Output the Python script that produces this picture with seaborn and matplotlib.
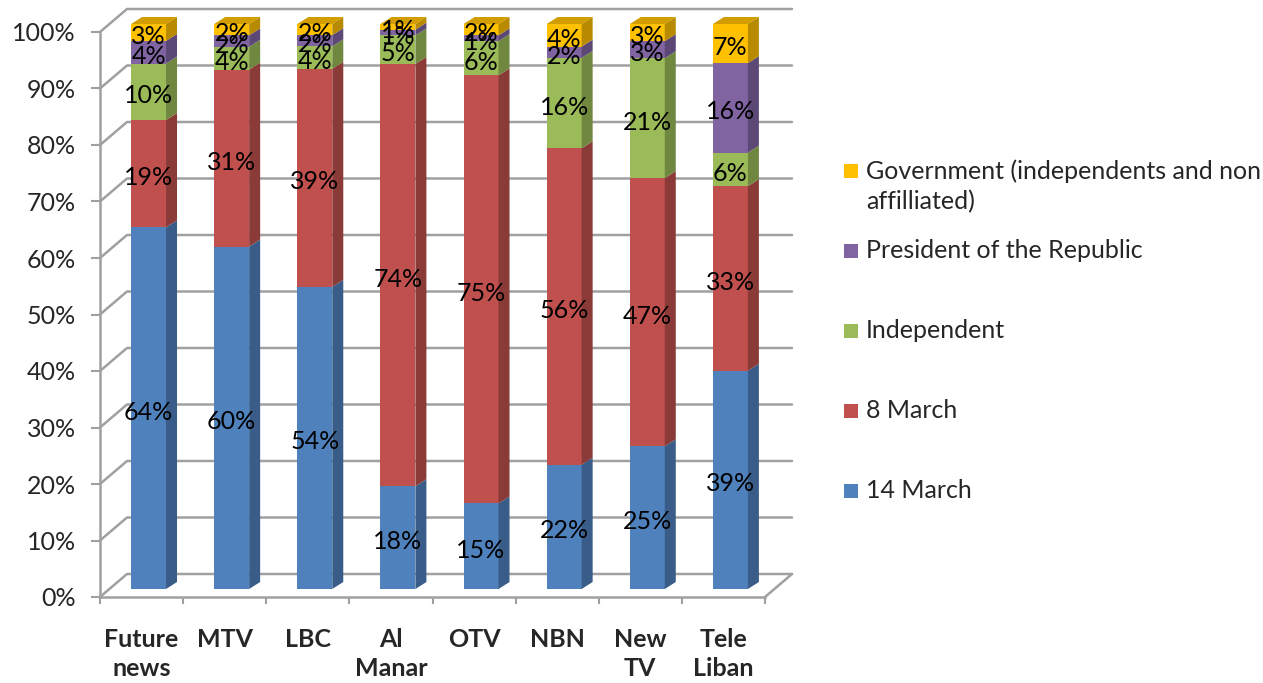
import numpy as np
import pandas as pd
import matplotlib
matplotlib.use("Agg")
import matplotlib.pyplot as plt
import matplotlib.colors as mcolors
from matplotlib.patches import Polygon, Rectangle
import seaborn as sns

# data (shares per TV channel, %)
channels = ["Future news", "MTV", "LBC", "Al Manar", "OTV", "NBN", "New TV", "Tele Liban"]
channel_labels = ["Future\nnews", "MTV", "LBC", "Al\nManar", "OTV", "NBN", "New\nTV", "Tele\nLiban"]
march14 = [64, 60, 54, 18, 15, 22, 25, 39]
march8 = [19, 31, 39, 74, 75, 56, 47, 33]
independent = [10, 4, 4, 5, 6, 16, 21, 6]
president = [4, 2, 2, 1, 1, 2, 3, 16]
government = [3, 2, 2, 1, 2, 4, 3, 7]
series_names = ["14 March", "8 March", "Independent", "President of the Republic",
                "Government (independents and non\naffilliated)"]
series_colors = ["#4F81BD", "#C0504D", "#9BBB59", "#8064A2", "#FFC000"]
ytick_values = list(range(0, 101, 10))

# 100% stacked
raw = np.array([march14, march8, independent, president, government], dtype=float)
share = raw / raw.sum(axis=0) * 100
cum = share.cumsum(axis=0)
bottoms = cum - share


def shade(c, f):
    r, g, b = mcolors.to_rgb(c)
    return (r * f, g * f, b * f)


sns.set_theme(style="white")
plt.rcParams['font.family'] = ['Lato', 'DejaVu Sans']

W, H = 1263, 683
fig = plt.figure(figsize=(W / 100, H / 100), dpi=100)
# front wall of the 3d box, in pixels
left_px, right_px, bottom_px, top_px = 100, 765, 597, 32
ax = fig.add_axes([left_px / W, 1 - bottom_px / H,
                   (right_px - left_px) / W, (bottom_px - top_px) / H])

n = len(channels)
px_x = (right_px - left_px) / n       # px per category
px_y = (bottom_px - top_px) / 100     # px per percent
FX = -7 / px_x                        # front wall offset vs bars
FY = -8 / px_y
WDX, WDY = 27 / px_x, 23 / px_y       # depth of the walls
SDX, SDY = 11 / px_x, 7 / px_y        # depth of the bars
BW = 0.42
xl, xr = -0.5 + FX, n - 0.5 + FX
grid_c = "#a0a0a0"

# back wall gridlines with their slanted part on the side wall
for v in ytick_values:
    y = v + FY
    ax.plot([xl, xl + WDX, xr + WDX], [y, y + WDY, y + WDY],
            color=grid_c, lw=1.8, clip_on=False, zorder=0.5)
ax.plot([xr, xr + WDX], [FY, FY + WDY], color=grid_c, lw=1.8, clip_on=False, zorder=0.5)

# front faces: cumulative bars drawn from the top series down
for k in range(len(series_names) - 1, -1, -1):
    df = pd.DataFrame({"channel": channels, "top": cum[k]})
    sns.barplot(data=df, x="channel", y="top", color=series_colors[k], saturation=1,
                width=BW, ax=ax, zorder=2, edgecolor="none", linewidth=0, clip_on=False)

# side and top faces, value labels
for k in range(len(series_names)):
    for i in range(n):
        x0, x1 = i - BW / 2, i + BW / 2
        b, t = bottoms[k, i], cum[k, i]
        ax.add_patch(Polygon([(x1, b), (x1 + SDX, b + SDY), (x1 + SDX, t + SDY), (x1, t)],
                             closed=True, fc=shade(series_colors[k], 0.72), ec="none",
                             zorder=2, clip_on=False))
        if k == len(series_names) - 1:
            ax.add_patch(Polygon([(x0, t), (x0 + SDX, t + SDY), (x1 + SDX, t + SDY), (x1, t)],
                                 closed=True, fc=shade(series_colors[k], 0.82), ec="none",
                                 zorder=2, clip_on=False))
        ax.text(i, b + share[k, i] / 2 - 4 / px_y, f"{int(raw[k, i])}%", ha="center",
                va="center", fontsize=18, color="black", zorder=5, clip_on=False)

ax.set_xlim(xl, xr)
ax.set_ylim(FY, 100 + FY)
ax.set_xlabel("")
ax.set_ylabel("")

ax.set_yticks([v + FY for v in ytick_values])
ax.set_yticklabels([f"{v}%" for v in ytick_values], fontsize=18)
ax.tick_params(axis="y", left=True, length=6.5, width=1.5, color=grid_c, pad=11)

ax.set_xticks([i - 0.5 + FX for i in range(n + 1)])
ax.set_xticklabels([])
ax.set_xticks([i + FX for i in range(n)], minor=True)
ax.set_xticklabels(channel_labels, minor=True, fontsize=18, fontweight="bold", linespacing=1.35)
ax.tick_params(axis="x", which="major", bottom=True, length=5, width=1.5, color=grid_c)
ax.tick_params(axis="x", which="minor", bottom=True, length=0, pad=22)

for s in ["top", "right"]:
    ax.spines[s].set_visible(False)
for s in ["left", "bottom"]:
    ax.spines[s].set_color(grid_c)
    ax.spines[s].set_linewidth(1.8)
    ax.spines[s].set_zorder(0.6)
ax.grid(False)

# legend, top entry is the last series
leg_x, leg_y0, leg_step = 844, 171, 80
for j, k in enumerate(range(len(series_names) - 1, -1, -1)):
    yc = leg_y0 + j * leg_step
    fig.patches.append(Rectangle((leg_x / W, 1 - (yc + 7) / H), 14 / W, 14 / H,
                                 transform=fig.transFigure, fc=series_colors[k], ec="none"))
    fig.text(866 / W, 1 - (yc - 12) / H, series_names[k], ha="left", va="top",
             fontsize=18, linespacing=1.4)

fig.savefig("out.png", dpi=100)
